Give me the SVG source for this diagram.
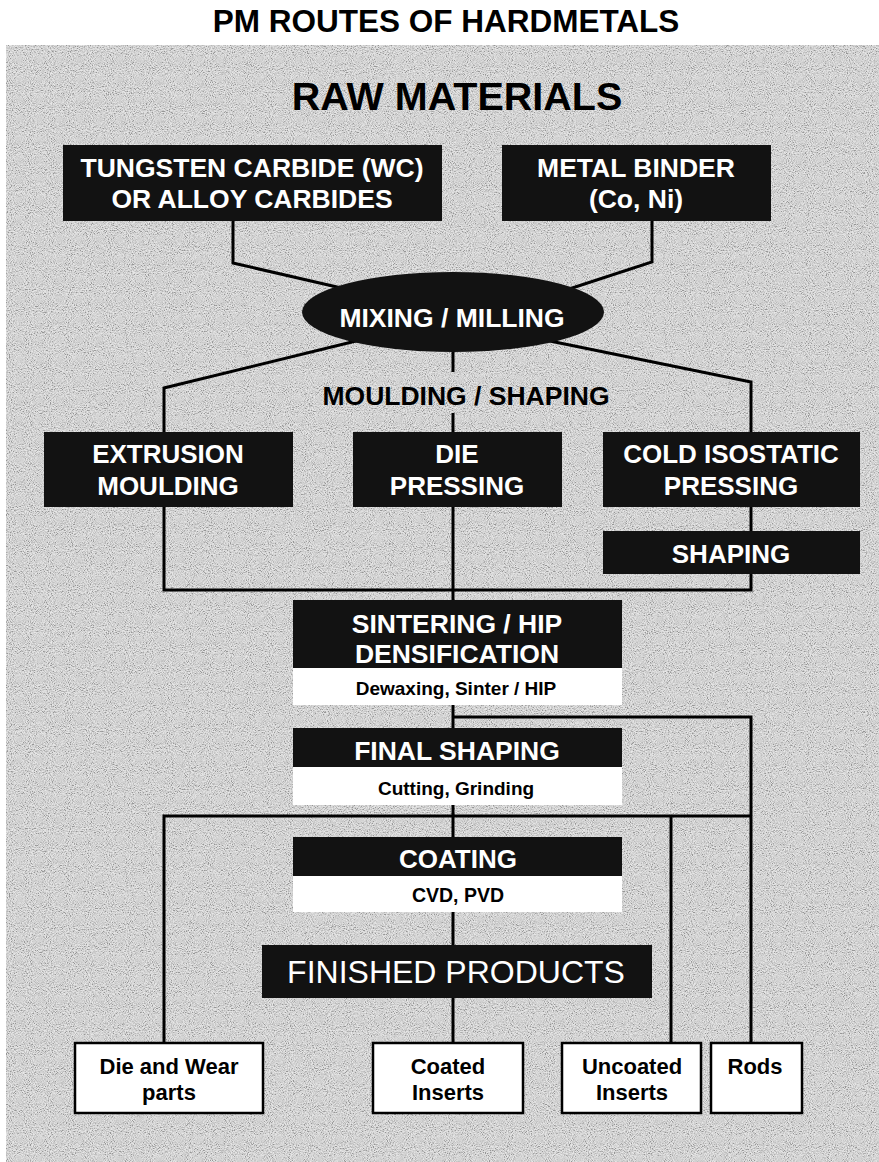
<svg xmlns="http://www.w3.org/2000/svg" width="879" height="1162" viewBox="0 0 879 1162">
<style>
  .t { font-family: "Liberation Sans", Arial, sans-serif; font-weight: bold; text-anchor: middle; }
  .w { fill: #ffffff; }
  .k { fill: #000000; }
  .blk { fill: #121212; }
  .sub { fill: #ffffff; }
  .prod { fill: #ffffff; stroke: #000000; stroke-width: 2.5; }
  .conn { fill: none; stroke: #000000; stroke-width: 3; stroke-linejoin: miter; }
</style>
<defs>
  <filter id="grain" x="0" y="0" width="100%" height="100%">
    <feTurbulence type="fractalNoise" baseFrequency="0.95" numOctaves="2" seed="7"/>
    <feColorMatrix type="matrix" values="1 0 0 0 0  1 0 0 0 0  1 0 0 0 0  0 0 0 0 1"/>
    <feComponentTransfer>
      <feFuncR type="linear" slope="2.2" intercept="-0.6"/>
      <feFuncG type="linear" slope="2.2" intercept="-0.6"/>
      <feFuncB type="linear" slope="2.2" intercept="-0.6"/>
    </feComponentTransfer>
  </filter>
</defs>
<rect x="0" y="0" width="879" height="1162" fill="#ffffff"/>
<g id="panel">
  <rect x="6" y="45" width="873" height="1117" fill="#dedede"/>
  <rect x="6" y="45" width="873" height="1117" filter="url(#grain)" opacity="0.32"/>
</g>
<text id="title" class="t k" x="446" y="32" font-size="31.5">PM ROUTES OF HARDMETALS</text>
<text id="raw-materials" class="t k" x="457" y="110" font-size="39.5">RAW MATERIALS</text>

<g id="connectors" class="conn">
  <polyline points="233,221 233,263 350,290"/>
  <polyline points="652,221 652,262 560,292"/>
  <polyline points="360,340 164,388 164,432"/>
  <polyline points="545,340 751,382 751,432"/>
  <line x1="453" y1="345" x2="453" y2="372"/>
  <line x1="453" y1="413" x2="453" y2="432"/>
  <line x1="751" y1="507" x2="751" y2="531"/>
  <polyline points="164,507 164,590 751,590 751,574"/>
  <line x1="453" y1="507" x2="453" y2="600"/>
  <line x1="453" y1="705" x2="453" y2="728"/>
  <polyline points="453,717 751,717 751,1043"/>
  <line x1="453" y1="805" x2="453" y2="837"/>
  <polyline points="164,1043 164,816 751,816"/>
  <line x1="671" y1="816" x2="671" y2="1043"/>
  <line x1="453" y1="912" x2="453" y2="945"/>
  <line x1="453" y1="998" x2="453" y2="1043"/>
</g>

<g id="tungsten-carbide">
  <rect class="blk" x="63" y="145" width="379" height="76"/>
  <text class="t w" x="252" y="177" font-size="26.5">TUNGSTEN CARBIDE (WC)</text>
  <text class="t w" x="252" y="208" font-size="26.5">OR ALLOY CARBIDES</text>
</g>
<g id="metal-binder">
  <rect class="blk" x="502" y="145" width="269" height="76"/>
  <text class="t w" x="636" y="177" font-size="26.5">METAL BINDER</text>
  <text class="t w" x="636" y="208" font-size="26.5">(Co, Ni)</text>
</g>
<g id="mixing-milling">
  <ellipse class="blk" cx="453" cy="312" rx="151" ry="40"/>
  <text class="t w" x="452" y="327" font-size="26.5">MIXING / MILLING</text>
</g>
<text id="moulding-shaping" class="t k" x="466" y="405" font-size="26.5">MOULDING / SHAPING</text>
<g id="extrusion-moulding">
  <rect class="blk" x="44" y="432" width="249" height="75"/>
  <text class="t w" x="168" y="463" font-size="26">EXTRUSION</text>
  <text class="t w" x="168" y="495" font-size="26">MOULDING</text>
</g>
<g id="die-pressing">
  <rect class="blk" x="353" y="432" width="209" height="75"/>
  <text class="t w" x="457" y="463" font-size="26">DIE</text>
  <text class="t w" x="457" y="495" font-size="26">PRESSING</text>
</g>
<g id="cold-isostatic-pressing">
  <rect class="blk" x="603" y="432" width="257" height="75"/>
  <text class="t w" x="731" y="463" font-size="26">COLD ISOSTATIC</text>
  <text class="t w" x="731" y="495" font-size="26">PRESSING</text>
</g>
<g id="shaping">
  <rect class="blk" x="603" y="531" width="257" height="43"/>
  <text class="t w" x="731" y="563" font-size="26">SHAPING</text>
</g>
<g id="sintering">
  <rect class="blk" x="293" y="600" width="329" height="68"/>
  <rect class="sub" x="293" y="668" width="329" height="37"/>
  <text class="t w" x="457" y="633" font-size="26.5">SINTERING / HIP</text>
  <text class="t w" x="457" y="663" font-size="26.5">DENSIFICATION</text>
  <text class="t k" x="456" y="695" font-size="19">Dewaxing, Sinter / HIP</text>
</g>
<g id="final-shaping">
  <rect class="blk" x="293" y="728" width="329" height="39"/>
  <rect class="sub" x="293" y="767" width="329" height="38"/>
  <text class="t w" x="457" y="760" font-size="26.5">FINAL SHAPING</text>
  <text class="t k" x="456" y="795" font-size="19">Cutting, Grinding</text>
</g>
<g id="coating">
  <rect class="blk" x="293" y="837" width="329" height="39"/>
  <rect class="sub" x="293" y="876" width="329" height="36"/>
  <text class="t w" x="458" y="868" font-size="26">COATING</text>
  <text class="t k" x="458" y="902" font-size="19.5">CVD, PVD</text>
</g>
<g id="finished-products">
  <rect class="blk" x="262" y="945" width="390" height="53"/>
  <text class="t w" x="456" y="983" font-size="32" style="font-weight:normal">FINISHED PRODUCTS</text>
</g>
<g id="die-wear-parts">
  <rect class="prod" x="75" y="1043" width="188" height="70"/>
  <text class="t k" x="169" y="1074" font-size="22">Die and Wear</text>
  <text class="t k" x="169" y="1100" font-size="22">parts</text>
</g>
<g id="coated-inserts">
  <rect class="prod" x="373" y="1043" width="150" height="70"/>
  <text class="t k" x="448" y="1074" font-size="22">Coated</text>
  <text class="t k" x="448" y="1100" font-size="22">Inserts</text>
</g>
<g id="uncoated-inserts">
  <rect class="prod" x="562" y="1043" width="139" height="70"/>
  <text class="t k" x="632" y="1074" font-size="22">Uncoated</text>
  <text class="t k" x="632" y="1100" font-size="22">Inserts</text>
</g>
<g id="rods">
  <rect class="prod" x="711" y="1043" width="91" height="70"/>
  <text class="t k" x="755" y="1074" font-size="22">Rods</text>
</g>
</svg>
